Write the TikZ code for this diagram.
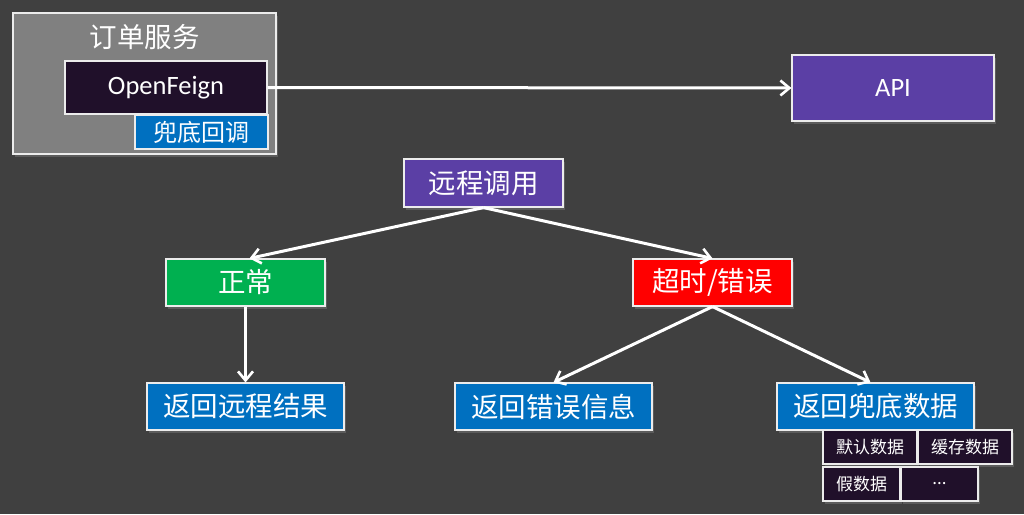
\documentclass[tikz,border=0pt]{standalone}
\usepackage{fontspec}
\setmainfont{Carlito}
\newfontfamily\cjk{Noto Sans CJK SC}
\usetikzlibrary{arrows.meta,shadows}
\definecolor{bg}{HTML}{404040}
\definecolor{outergray}{HTML}{808080}
\definecolor{darkbox}{HTML}{20102A}
\definecolor{purplebox}{HTML}{5B3FA5}
\definecolor{bluebox}{HTML}{0070C0}
\definecolor{greenbox}{HTML}{00B050}
\definecolor{redbox}{HTML}{FF0000}
\tikzset{
  box/.style={draw=white!85!gray, line width=1.2pt, text=white, inner sep=0pt,
    drop shadow={opacity=0.45, shadow xshift=2pt, shadow yshift=-3pt}},
  bigtext/.style={font=\cjk\fontsize{27.5}{32}\selectfont},
  smalltext/.style={font=\cjk\fontsize{17}{20}\selectfont},
  conn/.style={draw=white, line width=3pt, -{Straight Barb[length=9pt,width=15pt,line width=2.6pt]}},
}
\begin{document}
\begin{tikzpicture}[x=1pt,y=-1pt]
\fill[bg] (0,0) rectangle (1024,514);
\useasboundingbox (0,0) rectangle (1024,514);
% order service
\node[box, fill=outergray, minimum width=263pt, minimum height=141pt] (svc) at (144.5,83.5) {};
\node[text=white, bigtext] (svct) at (144.5,37) {订单服务};
\node[box, fill=darkbox, minimum width=202pt, minimum height=53pt, font=\fontsize{26.5}{30}\selectfont] (feign) at (166,87.5) {OpenFeign};
\node[box, fill=bluebox, minimum width=133pt, minimum height=34pt, font=\cjk\fontsize{24}{28}\selectfont] (fb) at (201.5,132) {兜底回调};
\node[box, fill=purplebox, minimum width=202pt, minimum height=66pt, font=\fontsize{26.5}{30}\selectfont] (api) at (893,88) {API};
% tree
\node[box, fill=purplebox, minimum width=159pt, minimum height=48pt, bigtext] (rc) at (483.5,183) {远程调用};
\node[box, fill=greenbox, minimum width=159pt, minimum height=47pt, bigtext] (ok) at (245.5,282.5) {正常};
\node[box, fill=redbox, minimum width=159pt, minimum height=47pt, bigtext] (err) at (712.5,282.5) {超时/错误};
\node[box, fill=bluebox, minimum width=197pt, minimum height=47pt, bigtext] (r1) at (245.5,406.5) {返回远程结果};
\node[box, fill=bluebox, minimum width=197pt, minimum height=47pt, bigtext] (r2) at (553.5,406.5) {返回错误信息};
\node[box, fill=bluebox, minimum width=197pt, minimum height=47pt, bigtext] (r3) at (875.5,406.5) {返回兜底数据};
\node[box, fill=darkbox, minimum width=94pt, minimum height=34pt, smalltext] (d1) at (870,447) {默认数据};
\node[box, fill=darkbox, minimum width=94pt, minimum height=34pt, smalltext] (d2) at (965,447) {缓存数据};
\node[box, fill=darkbox, minimum width=77pt, minimum height=34pt, smalltext] (d3) at (861.5,484) {假数据};
\node[box, fill=darkbox, minimum width=77pt, minimum height=34pt, smalltext] (d4) at (939.5,484) {...};
% connectors
\draw[conn] (feign.east) -- (api.west);
\draw[conn] (rc.south) -- ([xshift=4pt]ok.north);
\draw[conn] (rc.south) -- (err.north);
\draw[conn] (ok.south) -- (r1.north);
\draw[conn] (err.south) -- (r2.north);
\draw[conn] (err.south) -- ([xshift=-5pt]r3.north);
\end{tikzpicture}
\end{document}
